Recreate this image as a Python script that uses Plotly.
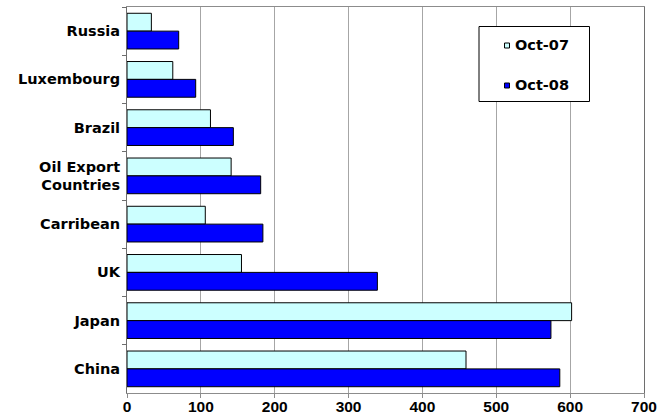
import plotly.graph_objects as go

# Regions listed top to bottom
regions = ["Russia", "Luxembourg", "Brazil", "Oil Export<br>Countries",
           "Carribean", "UK", "Japan", "China"]
oct_07 = [33, 62, 113, 141, 106, 155, 602, 459]
oct_08 = [70, 93, 144, 181, 184, 339, 574, 586]
x_ticks = [0, 100, 200, 300, 400, 500, 600, 700]

series_names = ["Oct-07", "Oct-08"]
series_colors = ["#CCFFFF", "#0000FF"]

LABEL_FONT = dict(family="DejaVu Sans, sans-serif", size=14.5, color="#000000", weight="bold")
NUM_FONT = dict(family="Liberation Sans, Arial, sans-serif", size=15.5, color="#000000", weight="bold")

# Plot area in pixels (for placing the legend box)
L, R, T, B = 127, 644, 7, 393
W, H = R - L, B - T


def px_x(px):
    return (px - L) / W


def px_y(py):
    return (B - py) / H


fig = go.Figure()
for name, vals, color in zip(series_names, [oct_07, oct_08], series_colors):
    fig.add_trace(go.Bar(
        y=regions, x=vals, orientation="h", name=name, showlegend=False,
        marker=dict(color=color, line=dict(color="#000000", width=1)),
    ))

# Legend: framed box with small swatches and bold labels
shapes = [dict(
    type="rect", xref="paper", yref="paper",
    x0=px_x(479), x1=px_x(589.5), y0=px_y(101.5), y1=px_y(26.5),
    line=dict(color="#000000", width=1), fillcolor="white", layer="above",
)]
annotations = []
for name, color, cy in zip(series_names, series_colors, [45.5, 85.5]):
    shapes.append(dict(
        type="rect", xref="paper", yref="paper",
        x0=px_x(504.5), x1=px_x(509.5), y0=px_y(cy + 2.5), y1=px_y(cy - 2.5),
        line=dict(color="#000000", width=1), fillcolor=color, layer="above",
    ))
    annotations.append(dict(
        text=name, xref="paper", yref="paper", x=px_x(513), y=px_y(cy - 0.5),
        xanchor="left", yanchor="middle", showarrow=False, font=LABEL_FONT,
    ))

fig.update_layout(
    width=670, height=415,
    margin=dict(l=L, r=670 - R, t=T, b=415 - B),
    paper_bgcolor="white", plot_bgcolor="white",
    font=LABEL_FONT,
    barmode="group", bargap=0.26, bargroupgap=0,
    showlegend=False,
    shapes=shapes, annotations=annotations,
)
fig.update_xaxes(
    range=[0, 700], tickvals=x_ticks, ticktext=[str(v) for v in x_ticks],
    tickfont=NUM_FONT,
    showgrid=True, gridcolor="#A6A6A6", gridwidth=1,
    showline=True, linecolor="#8C8C8C", linewidth=1, mirror=True,
    ticks="outside", ticklen=4, tickcolor="#8C8C8C",
    ticklabelstandoff=-5,
    zeroline=False, fixedrange=True, automargin=False,
)
fig.update_yaxes(
    autorange="reversed", tickfont=LABEL_FONT,
    showline=True, linecolor="#6E6E6E", linewidth=1, mirror=True,
    ticks="outside", ticklen=4, tickcolor="#6E6E6E", tickson="boundaries",
    ticklabelstandoff=3,
    showgrid=False, zeroline=False, fixedrange=True, automargin=False,
)

fig.write_html("out.html")
